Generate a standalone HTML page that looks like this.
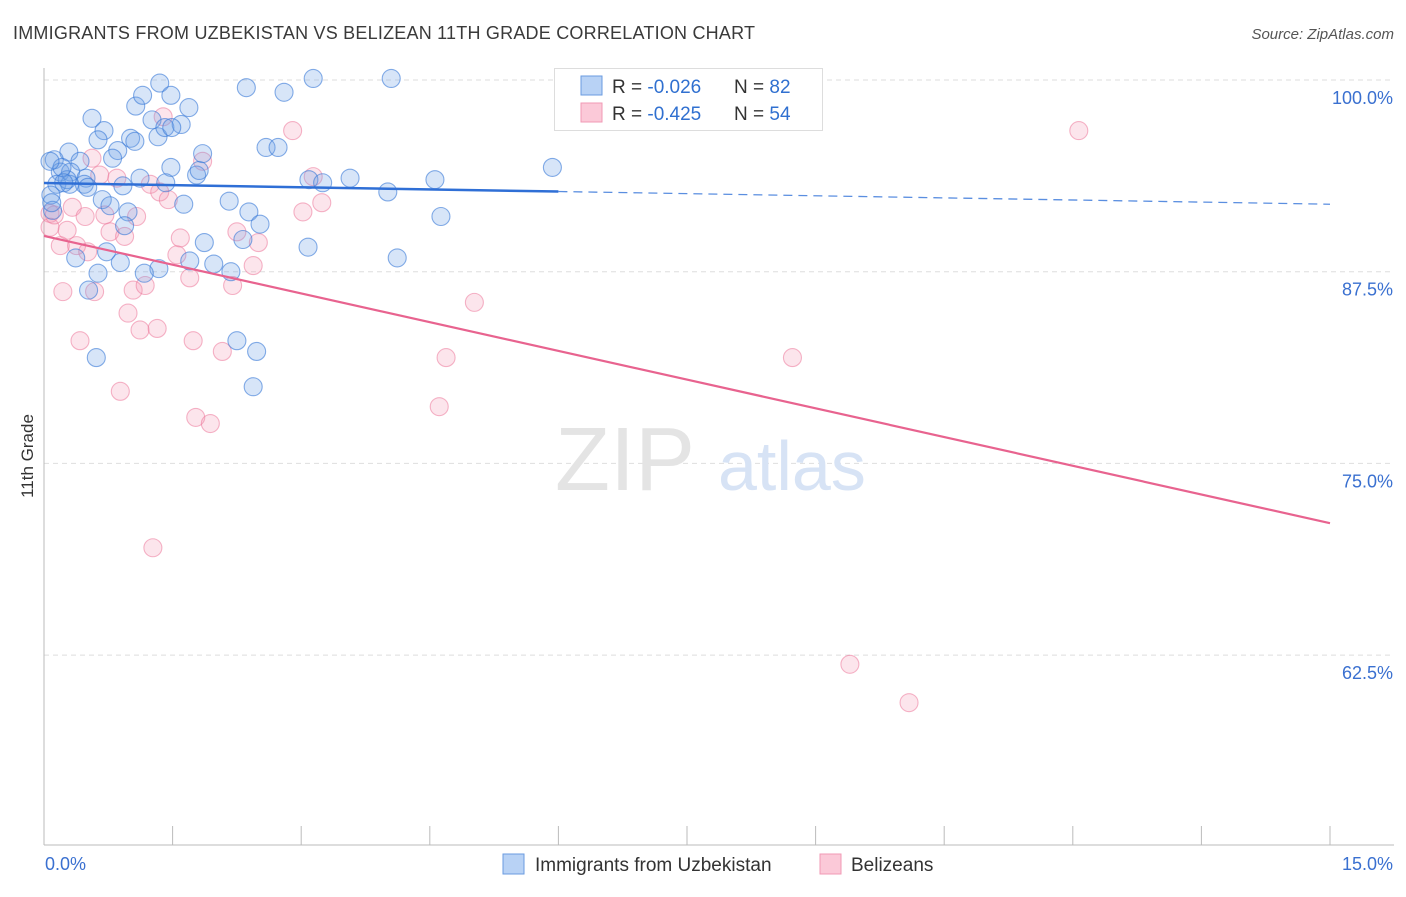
<!DOCTYPE html>
<html><head><meta charset="utf-8">
<style>
body{margin:0;background:#fff;font-family:"Liberation Sans",sans-serif;}
svg text{font-family:"Liberation Sans",sans-serif;}
</style></head>
<body>
<svg id="chart" width="1406" height="892" xmlns="http://www.w3.org/2000/svg">
<text x="13" y="39" font-size="18" fill="#3a3a3a" textLength="742">IMMIGRANTS FROM UZBEKISTAN VS BELIZEAN 11TH GRADE CORRELATION CHART</text>
<text x="1394" y="39" font-size="15" fill="#555" text-anchor="end" font-style="italic">Source: ZipAtlas.com</text>
<text transform="translate(33,456) rotate(-90)" font-size="17" fill="#333" text-anchor="middle">11th Grade</text>
<g id="grid"></g>
<g>
<text x="555" y="490" font-size="90" fill="#e4e4e4" font-family="Liberation Serif">ZIP</text>
<text x="718" y="490" font-size="70" fill="#d7e3f5">atlas</text>
</g>
<g id="axes"></g>
<g id="points"></g>
<g id="trends"></g>
<g>
<rect x="554.5" y="68.5" width="268" height="62" fill="#fff" stroke="#ddd"/>
<rect x="581" y="76" width="21" height="19" fill="#b8d2f5" stroke="#6a9be0"/>
<rect x="581" y="103" width="21" height="19" fill="#fbc9d8" stroke="#f099b5"/>
<text x="612" y="93" font-size="19" fill="#333">R = <tspan fill="#3070d0">-0.026</tspan></text>
<text x="734" y="93" font-size="19" fill="#333">N = <tspan fill="#3070d0">82</tspan></text>
<text x="612" y="120" font-size="19" fill="#333">R = <tspan fill="#3070d0">-0.425</tspan></text>
<text x="734" y="120" font-size="19" fill="#333">N = <tspan fill="#3070d0">54</tspan></text>
</g>
<g>
<rect x="503" y="854" width="21" height="20" fill="#b8d2f5" stroke="#6a9be0"/>
<text x="535" y="871" font-size="19" fill="#333">Immigrants from Uzbekistan</text>
<rect x="820" y="854" width="21" height="20" fill="#fbc9d8" stroke="#f099b5"/>
<text x="851" y="871" font-size="19" fill="#333">Belizeans</text>
</g>
</svg>
<script>
const xTicks=[0,1.5,3,4.5,6,7.5,9,10.5,12,13.5,15];
const yTicks=[100,87.5,75,62.5];
const yTickLabels=["100.0%","87.5%","75.0%","62.5%"];
const xEndLabels=["0.0%","15.0%"];
const blueX=[1.35,1.69,1.07,1.15,1.48,2.36,2.80,3.14,4.05,0.56,0.70,1.01,1.06,1.33,1.26,1.41,1.60,1.49,0.63,0.86,0.80,0.29,0.42,0.12,0.19,0.31,0.49,0.47,0.15,0.30,0.27,0.08,0.10,0.68,0.77,0.92,0.98,0.94,1.48,1.42,1.78,1.81,1.85,1.63,2.16,2.39,2.52,2.32,2.59,2.73,3.09,3.25,3.57,4.01,4.56,4.63,5.93,3.08,4.12,1.87,2.18,1.98,1.70,1.34,1.17,0.89,0.73,0.63,0.37,0.52,0.61,2.25,2.48,2.44,0.51,0.21,0.23,1.12,0.09,0.07];
const blueY=[99.8,98.2,98.3,99.0,99.0,99.5,99.2,100.1,100.1,97.5,96.7,96.2,96.0,96.3,97.4,96.9,97.1,96.9,96.1,95.4,94.9,95.3,94.7,94.8,94.0,94.0,93.6,93.2,93.2,93.2,93.5,92.5,91.5,92.2,91.8,93.1,91.4,90.5,94.3,93.3,93.8,94.1,95.2,91.9,92.1,91.4,90.6,89.6,95.6,95.6,93.5,93.3,93.6,92.7,93.5,91.1,94.3,89.1,88.4,89.4,87.5,88.0,88.2,87.7,87.4,88.1,88.8,87.4,88.4,86.3,81.9,83.0,82.3,80.0,93.0,94.3,93.3,93.6,92.0,94.7];
const pinkX=[0.56,0.65,0.85,1.39,2.90,1.24,1.35,1.45,1.85,3.14,3.02,3.24,0.33,0.48,0.71,1.08,0.27,0.77,0.94,0.19,0.38,0.51,0.07,0.07,1.59,2.25,2.50,1.55,1.70,2.20,2.44,0.22,0.59,1.04,1.18,0.98,1.12,1.32,1.74,2.08,0.42,0.89,1.77,1.94,1.27,5.02,4.69,4.61,8.73,9.40,10.09,12.07,0.12];
const pinkY=[94.9,93.8,93.6,97.6,96.7,93.2,92.7,92.2,94.7,93.7,91.4,92.0,91.7,91.1,91.2,91.1,90.2,90.1,89.8,89.2,89.2,88.8,91.3,90.4,89.7,90.1,89.4,88.6,87.1,86.6,87.9,86.2,86.2,86.3,86.6,84.8,83.7,83.8,83.0,82.3,83.0,79.7,78.0,77.6,69.5,85.5,81.9,78.7,81.9,61.9,59.4,96.7,91.2];
const blueTrend=[93.28,91.9];
const pinkTrend=[89.83,71.1];

const NS="http://www.w3.org/2000/svg";
const X0=44,X1=1330,Y0=80,YP=15.336;
function xs(v){return X0+(v/15)*(X1-X0);}
function ys(v){return Y0+(100-v)*YP;}
function mk(tag,attrs,parent){const e=document.createElementNS(NS,tag);for(const k in attrs)e.setAttribute(k,attrs[k]);parent.appendChild(e);return e;}
const grid=document.getElementById('grid'),axes=document.getElementById('axes'),pts=document.getElementById('points'),tr=document.getElementById('trends');
yTicks.forEach((t,i)=>{
  const l=mk('line',{x1:X0,x2:1394,y1:ys(t),y2:ys(t),stroke:'#dedede','stroke-dasharray':'5,4'},grid);
  
  
  const tx=mk('text',{x:1393,y:ys(t)+24,'font-size':18,fill:'#3a70d0','text-anchor':'end'},axes);
  tx.textContent=yTickLabels[i];
  
  
});
const ya=mk('line',{x1:X0,x2:X0,y1:68,y2:845,stroke:'#bbb'},axes);


const xa=mk('line',{x1:X0,x2:1394,y1:845,y2:845,stroke:'#bbb'},axes);


xTicks.forEach(t=>{
  const l=mk('line',{x1:xs(t),x2:xs(t),y1:826,y2:845,stroke:'#bbb'},axes);
  
  
});
[[0,'start',xEndLabels[0]],[15,'end',xEndLabels[1]]].forEach(a=>{
  const tx=mk('text',{x:a[0]===0?45:1393,y:870,'font-size':18,fill:'#3a70d0','text-anchor':a[1]},axes);
  tx.textContent=a[2];
  
  
});
function dots(X,Y,fill,stroke,name){
  X.forEach((x,i)=>{
    const c=mk('circle',{cx:xs(x),cy:ys(Y[i]),r:9,fill:fill,stroke:stroke,'stroke-width':1.1},pts);
    
    
  });
}
dots(pinkX,pinkY,'rgba(244,150,180,0.25)','rgba(236,120,155,0.55)','belizean-point');
dots(blueX,blueY,'rgba(110,160,230,0.28)','rgba(55,120,215,0.6)','uzbekistan-point');
const bMid=blueTrend[0]+(blueTrend[1]-blueTrend[0])*(6/15);
const b1=mk('line',{x1:xs(0),y1:ys(blueTrend[0]),x2:xs(6),y2:ys(bMid),stroke:'#2f6fd6','stroke-width':2.5},tr);


const b2=mk('line',{x1:xs(6),y1:ys(bMid),x2:xs(15),y2:ys(blueTrend[1]),stroke:'#5a8ee0','stroke-width':1.3,'stroke-dasharray':'9,6'},tr);


const p1=mk('line',{x1:xs(0),y1:ys(pinkTrend[0]),x2:xs(15),y2:ys(pinkTrend[1]),stroke:'#e8638f','stroke-width':2.2},tr);


</script>
</body></html>
